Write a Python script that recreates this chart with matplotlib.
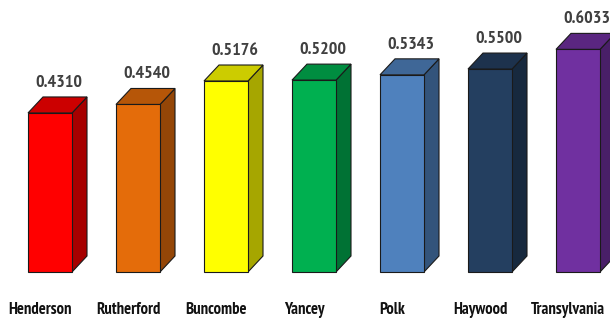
import numpy as np
import matplotlib.pyplot as plt
from matplotlib.patches import Polygon
from matplotlib.colors import to_rgb

# data
counties = ['Henderson', 'Rutherford', 'Buncombe', 'Yancey', 'Polk', 'Haywood', 'Transylvania']
values = [0.4310, 0.4540, 0.5176, 0.5200, 0.5343, 0.5500, 0.6033]
colors = ['#FF0000', '#E46C0A', '#FFFF00', '#00B050', '#4F81BD', '#243F60', '#7030A0']

# narrow bold font, close to the original's condensed look
plt.rcParams['font.family'] = ['PT Sans Narrow', 'Roboto Condensed', 'DejaVu Sans']

fig = plt.figure(figsize=(6.1, 3.18), dpi=100)
ax = fig.add_axes([0, 0, 1, 1])
ax.set_xlim(-50 / 88, 560 / 88)
ax.set_ylim(-46 / 369, 272 / 369)
ax.axis('off')

w = 0.5          # front face width
dx = 15 / 88     # depth in x
dy = 16 / 369    # depth in y


def shade(c, f):
    r, g, b = to_rgb(c)
    return (r * f, g * f, b * f)


x = np.arange(len(counties))
for xi, v, c in zip(x, values, colors):
    l, r = xi - w / 2, xi + w / 2
    ec = '#1a1a1a'
    front = Polygon([(l, 0), (r, 0), (r, v), (l, v)], closed=True,
                    facecolor=c, edgecolor=ec, lw=0.8)
    side = Polygon([(r, 0), (r + dx, dy), (r + dx, v + dy), (r, v)], closed=True,
                   facecolor=shade(c, 0.65), edgecolor=ec, lw=0.8)
    top = Polygon([(l, v), (r, v), (r + dx, v + dy), (l + dx, v + dy)], closed=True,
                  facecolor=shade(c, 0.8), edgecolor=ec, lw=0.8)
    for p in (side, top, front):
        ax.add_patch(p)
    ax.text(xi + dx / 2 + 0.02, v + dy + 0.028, f'{v:.4f}', ha='center', va='baseline',
            fontsize=13, fontweight='bold', color='#404040')

# category labels, a little left of each bar
for xi, name in zip(x, counties):
    ax.text(xi - 0.11, -0.1146, name, ha='center', va='baseline',
            fontsize=12, fontweight='bold', color='#111111')

fig.savefig('out.png', dpi=100)
